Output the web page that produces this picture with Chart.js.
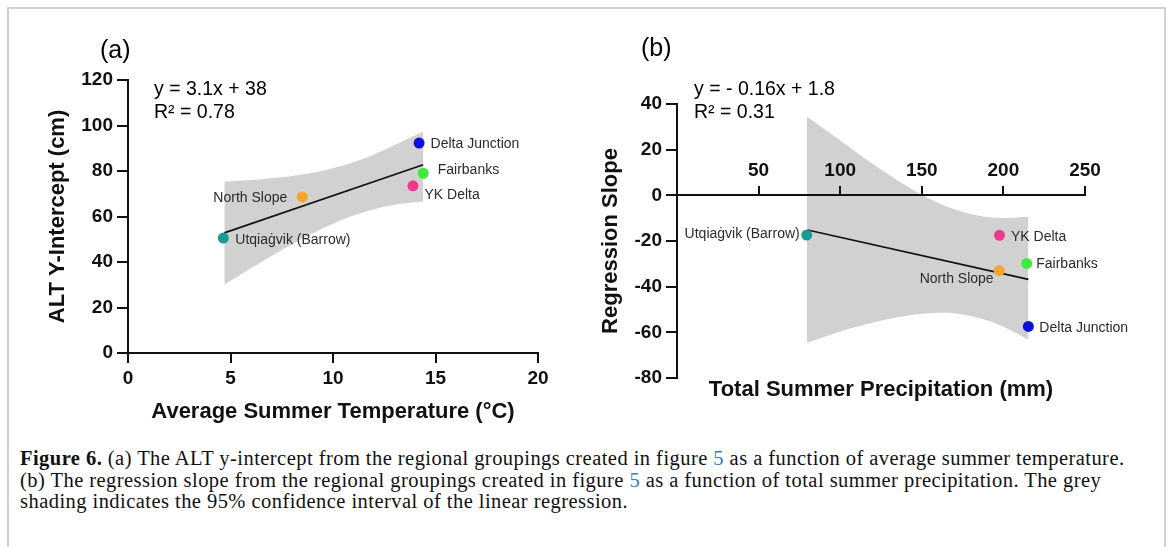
<!DOCTYPE html>
<html>
<head>
<meta charset="utf-8">
<script src="https://cdn.jsdelivr.net/npm/chart.js@4.4.0/dist/chart.umd.min.js"></script>
<style>
  body { margin:0; background:#fff; }
  #page { position:relative; width:1167px; height:547px; overflow:hidden; font-family:"Liberation Sans", Arial, sans-serif; }
  #frame { position:absolute; left:7px; top:7px; width:1155px; height:560px; border:2px solid #d0d0d0; }
  canvas { position:absolute; top:0; }
  #chartA { left:0; }
  #chartB { left:583px; }
  .panel { position:absolute; font-size:25px; line-height:25px; color:#000; }
  .eq { position:absolute; font-size:19.5px; line-height:23.4px; color:#000; white-space:nowrap; }
  #caption { position:absolute; left:20px; top:448px; font-family:"Liberation Serif", serif; font-size:20.5px; letter-spacing:0.45px; line-height:21.7px; color:#111; white-space:nowrap; }
  #caption span.ref { color:#2a7fbf; }
</style>
</head>
<body>
<div id="page">
  <div id="frame"></div>
  <canvas id="chartA" width="583" height="440"></canvas>
  <canvas id="chartB" width="584" height="440"></canvas>
  <div class="panel" style="left:100px; top:37px;">(a)</div>
  <div class="panel" style="left:641px; top:35px;">(b)</div>
  <div class="eq" style="left:154px; top:77px;">y = 3.1x + 38<br>R² = 0.78</div>
  <div class="eq" style="left:694px; top:77px;">y = - 0.16x + 1.8<br>R² = 0.31</div>
  <div id="caption"><b>Figure 6.</b> (a) The ALT y-intercept from the regional groupings created in figure <span class="ref">5</span> as a function of average summer temperature.<br>(b) The regression slope from the regional groupings created in figure <span class="ref">5</span> as a function of total summer precipitation. The grey<br>shading indicates the 95% confidence interval of the linear regression.</div>
</div>
<script>
// panel (a) : intercept vs temperature
const sitesA = ["Utqiaġvik (Barrow)", "North Slope", "YK Delta", "Fairbanks", "Delta Junction"];
const tempA = [4.65, 8.5, 13.9, 14.4, 14.2];
const interceptA = [50.5, 68.6, 73.5, 79.0, 92.3];
const fitTempA = [4.7, 14.4];
const fitInterceptA = [52.8, 82.7];
const bandTempA = [4.7, 6, 7, 8, 9, 10, 11, 12, 13, 14.4];
const bandUpperA = [75.3, 76.0, 76.8, 77.8, 79.2, 81.2, 83.8, 87.2, 91.4, 97.4];
const bandLowerA = [30.0, 37.2, 42.6, 47.8, 52.6, 56.8, 60.4, 63.2, 65.2, 66.6];
const ticksXA = [0, 5, 10, 15, 20];
const ticksYA = [0, 20, 40, 60, 80, 100, 120];

// panel (b) : slope vs precipitation
const sitesB = ["Utqiaġvik (Barrow)", "YK Delta", "Fairbanks", "North Slope", "Delta Junction"];
const precipB = [79.5, 197.6, 214.3, 197.4, 215.3];
const slopeB = [-17.4, -17.5, -29.8, -33.0, -57.4];
const fitPrecipB = [80, 215.3];
const fitSlopeB = [-15.2, -36.8];
const bandPrecipB = [79.6, 95, 110, 125, 140, 155, 170, 185, 200, 215.3];
const bandUpperB = [34.5, 26.6, 18.8, 11.3, 4.4, -1.6, -6.1, -8.9, -9.9, -9.4];
const bandLowerB = [-64.6, -60.8, -57.6, -54.9, -52.8, -51.6, -51.7, -53.7, -57.5, -63.2];
const ticksXB = [0, 50, 100, 150, 200, 250];
const ticksYB = [-80, -60, -40, -20, 0, 20, 40];

// site colours
const siteColor = {
  "Utqiaġvik (Barrow)": "#179c98",
  "North Slope": "#f6a62a",
  "YK Delta": "#ee3a8e",
  "Fairbanks": "#3cec3c",
  "Delta Junction": "#0c10d8"
};
// label offsets from the point (px), negative dx = text to the left
const labelOffA = [[12, 2], [-15, 1], [11.5, 9], [14.5, -3], [11.5, 1]];
const labelOffB = [[-7, -1], [11.5, 2], [9.5, 1], [-5.5, 8.5], [11, 2]];

Chart.defaults.font.family = '"Liberation Sans", Arial, sans-serif';
Chart.defaults.color = "#111";

const pts = (xs, ys) => xs.map((x, i) => ({ x: x, y: ys[i] }));

function labelPlugin(names, offsets) {
  return {
    id: "pointLabels",
    afterDatasetsDraw(chart) {
      const meta = chart.getDatasetMeta(0);
      const ctx = chart.ctx;
      ctx.save();
      ctx.font = '14px "Liberation Sans", Arial, sans-serif';
      ctx.fillStyle = "#2b2b2b";
      ctx.textBaseline = "middle";
      meta.data.forEach((p, i) => {
        const o = offsets[i];
        ctx.textAlign = o[0] < 0 ? "right" : "left";
        ctx.fillText(names[i], p.x + o[0], p.y + o[1]);
      });
      ctx.restore();
    }
  };
}

function datasets(names, xs, ys, fx, fy, bx, bu, bl) {
  const cols = names.map(n => siteColor[n]);
  return [
    { data: pts(xs, ys), showLine: false, pointRadius: 5.5, pointBorderWidth: 0,
      pointBackgroundColor: cols, pointBorderColor: cols },
    { data: pts(fx, fy), borderColor: "#111", borderWidth: 1.6, pointRadius: 0, fill: false },
    { data: pts(bx, bu), borderColor: "rgba(0,0,0,0)", borderWidth: 1, pointRadius: 0,
      tension: 0.4, fill: "+1", backgroundColor: "#d1d1d1" },
    { data: pts(bx, bl), borderColor: "rgba(0,0,0,0)", borderWidth: 1, pointRadius: 0,
      tension: 0.4, fill: false }
  ];
}

const tickFont = { size: 19, weight: "bold" };
const titleFont = { size: 22, weight: "bold" };
const gridOpt = (len, z) => ({ display: true, drawOnChartArea: false, drawTicks: true,
  tickLength: len, color: "#111", lineWidth: 2, z: z });
const borderOpt = z => ({ display: true, color: "#111", width: 2, z: z });
const fixedTicks = list => scale => { scale.ticks = list.map(v => ({ value: v })); };

new Chart(document.getElementById("chartA"), {
  type: "line",
  data: { datasets: datasets(sitesA, tempA, interceptA, fitTempA, fitInterceptA, bandTempA, bandUpperA, bandLowerA) },
  options: {
    responsive: false, animation: false, events: [],
    layout: { padding: { left: 0, top: 80, right: 45, bottom: 0 } },
    plugins: { legend: { display: false }, tooltip: { enabled: false } },
    scales: {
      x: {
        type: "linear", position: "bottom", min: 0, max: 20,
        afterBuildTicks: fixedTicks(ticksXA),
        ticks: { font: tickFont, padding: 4, maxRotation: 0, autoSkip: false },
        grid: gridOpt(10, 0), border: borderOpt(0),
        title: { display: true, text: "Average Summer Temperature (°C)", font: titleFont,
          padding: { top: 0, bottom: 15 } },
        afterFit(s) { s.height = 87; }
      },
      y: {
        type: "linear", position: "left", min: 0, max: 120,
        afterBuildTicks: fixedTicks(ticksYA),
        ticks: { font: tickFont, padding: 4, autoSkip: false },
        grid: gridOpt(11, 0), border: borderOpt(0),
        title: { display: true, text: "ALT Y-Intercept (cm)", font: titleFont,
          padding: { top: 45, bottom: 0 } },
        afterFit(s) { s.width = 128; }
      }
    }
  },
  plugins: [labelPlugin(sitesA, labelOffA)]
});

new Chart(document.getElementById("chartB"), {
  type: "line",
  data: { datasets: datasets(sitesB, precipB, slopeB, fitPrecipB, fitSlopeB, bandPrecipB, bandUpperB, bandLowerB) },
  options: {
    responsive: false, animation: false, events: [],
    layout: { padding: { left: 0, top: 104, right: 82, bottom: 0 } },
    plugins: { legend: { display: false }, tooltip: { enabled: false } },
    scales: {
      x: {
        type: "linear", position: { y: 0 }, min: 0, max: 250,
        afterBuildTicks: fixedTicks(ticksXB),
        ticks: { font: tickFont, padding: -26, maxRotation: 0, autoSkip: false, z: 1,
          callback: v => (v === 0 ? "" : v) },
        grid: gridOpt(-10, 1), border: borderOpt(1)
      },
      x2: {
        type: "linear", position: "bottom", min: 0, max: 250,
        ticks: { display: false }, grid: { display: false }, border: { display: false },
        title: { display: true, text: "Total Summer Precipitation (mm)", font: titleFont,
          padding: { top: 0, bottom: 36.8 } },
        afterFit(s) { s.height = 62; }
      },
      y: {
        type: "linear", position: "left", min: -80, max: 40,
        afterBuildTicks: fixedTicks(ticksYB),
        ticks: { font: tickFont, padding: 4, autoSkip: false },
        grid: gridOpt(11, 0), border: borderOpt(0),
        title: { display: true, text: "Regression Slope", font: titleFont,
          padding: { top: 14.5, bottom: 0 } },
        afterFit(s) { s.width = 94; }
      }
    }
  },
  plugins: [labelPlugin(sitesB, labelOffB)]
});
</script>
</body>
</html>
